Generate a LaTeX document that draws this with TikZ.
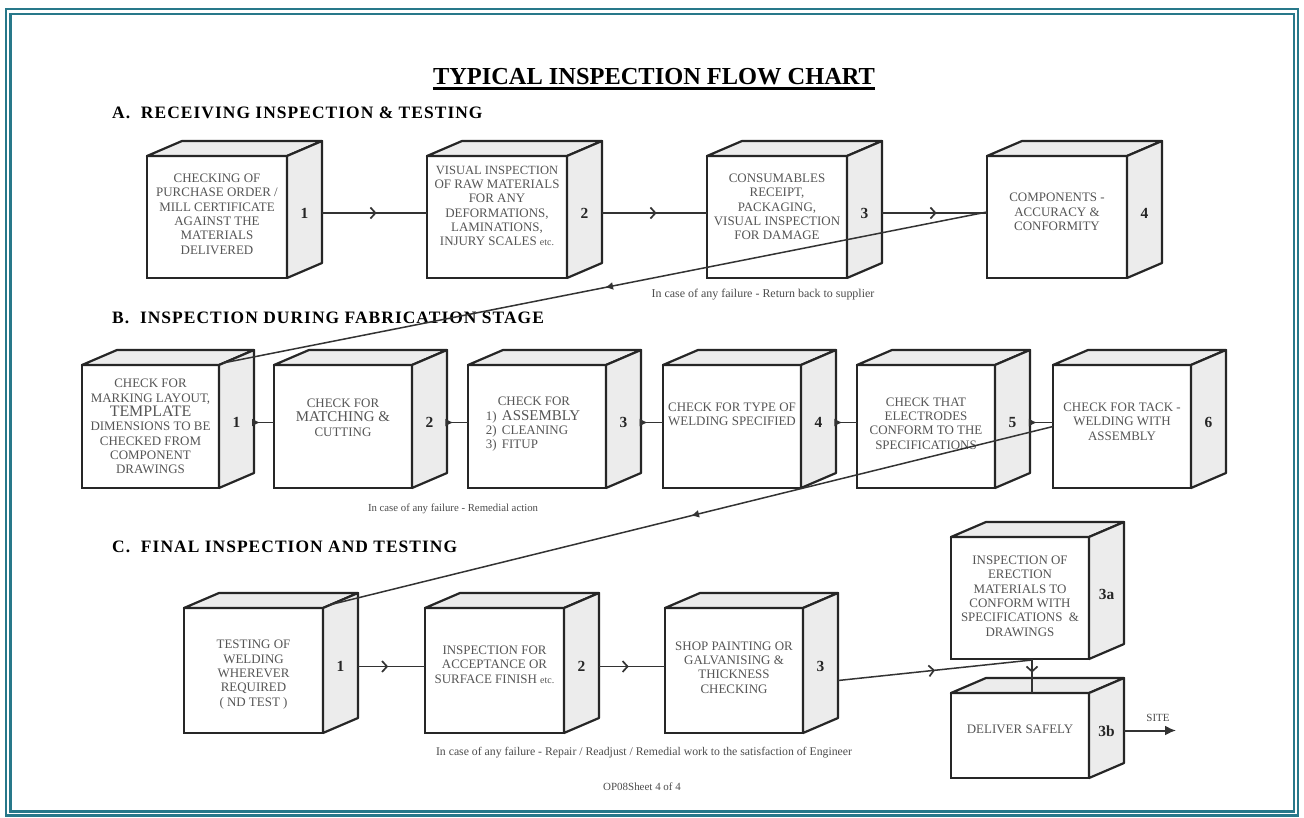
\documentclass[tikz,border=0pt]{standalone}
\usepackage{fontspec}
\setmainfont{Liberation Serif}
\newfontfamily\headfont[LetterSpace=6]{Liberation Serif}
\usetikzlibrary{arrows.meta,calc,decorations.markings}
\definecolor{frameteal}{RGB}{40,120,138}
\definecolor{facegray}{RGB}{236,236,236}
\definecolor{inkgray}{RGB}{85,85,85}

\tikzset{
  frontface/.style={draw=black!85, line width=2.2bp, fill=white, inner sep=0pt, outer sep=0pt, anchor=north west},
  depthface/.style={draw=black!85, line width=2.2bp, fill=facegray, line join=round},
  boxtext/.style={font=\fontsize{13}{14.4}\selectfont, text=inkgray, align=center, inner sep=0pt},
  numlabel/.style={font=\fontsize{15.5}{15.5}\selectfont\bfseries, text=black!85, inner sep=0pt},
  flow/.style={draw=black!80, line width=1.5bp},
  chev/.style={postaction={decorate}, decoration={markings, mark=at position #1 with {\arrow{Straight Barb[length=5bp,width=11bp,line width=1.7bp]}}}},
  tri/.style={postaction={decorate}, decoration={markings, mark=at position #1 with {\arrow{Latex[length=8bp,width=8bp]}}}},
  note/.style={font=\fontsize{11}{12}\selectfont, text=black!70, inner sep=0pt},
  heading/.style={font=\headfont\fontsize{17.5}{17.5}\selectfont\bfseries, anchor=west, inner sep=0pt},
}

% #1 name, #2 x, #3 y, #4 w, #5 h, #6 number, #7 text shift, #8 text
\newcommand\cubebox[8]{%
  \node[frontface, minimum width=#4bp, minimum height=#5bp] (#1) at (#2,#3) {};
  \draw[depthface] (#1.north west) -- ++(35,-15) -- ++(#4,0) -- (#1.north east) -- cycle;
  \draw[depthface] (#1.north east) -- ++(35,-15) -- ++(0,#5) -- (#1.south east) -- cycle;
  \node[boxtext] (#1t) at ($(#1.center)+(0,#7)$) {#8};
  \node[numlabel] (#1n) at ($(#1.east)+(17.5,-4)$) {#6};
  \coordinate (#1r) at ($(#1.east)+(35,-4)$);
}
\newcommand\sm[1]{{\fontsize{10}{14.4}\selectfont #1}}

\begin{document}
\begin{tikzpicture}[x=1bp,y=-1bp]
\useasboundingbox (0,0) rectangle (1304,817);
\fill[white] (0,0) rectangle (1304,817);
% frame
\draw[frameteal, line width=2.4bp] (6,9.2) rectangle (1298,815.5);
\draw[frameteal, line width=2.8bp] (10.8,14) rectangle (1294,811.5);

% title and headings
\node[font=\fontsize{24.5}{25}\selectfont\bfseries, inner sep=0pt] (title) at (654,77) {TYPICAL INSPECTION FLOW CHART};
\draw[line width=2.2bp] ($(title.south west)+(0,3)$) -- ($(title.south east)+(0,3)$);
\node[heading] (hA) at (112,113) {A.\ \ RECEIVING INSPECTION \& TESTING};
\node[heading] (hB) at (112,318) {B.\ \ INSPECTION DURING FABRICATION STAGE};
\node[heading] (hC) at (112,547) {C.\ \ FINAL INSPECTION AND TESTING};

% row A
\cubebox{A1}{147}{156}{140}{122}{1}{-3}{CHECKING OF\\PURCHASE ORDER /\\MILL CERTIFICATE\\AGAINST THE\\MATERIALS\\DELIVERED}
\cubebox{A2}{427}{156}{140}{122}{2}{-11}{\fontsize{12.6}{14.4}\selectfont VISUAL INSPECTION\\OF RAW MATERIALS\\FOR ANY\\DEFORMATIONS,\\LAMINATIONS,\\INJURY SCALES \sm{etc.}}
\cubebox{A3}{707}{156}{140}{122}{3}{-10}{CONSUMABLES\\RECEIPT,\\PACKAGING,\\VISUAL INSPECTION\\FOR DAMAGE}
\cubebox{A4}{987}{156}{140}{122}{4}{-5}{COMPONENTS -\\ACCURACY \&\\CONFORMITY}

% row B
\cubebox{B1}{82}{365}{137}{123}{1}{0}{CHECK FOR\\MARKING LAYOUT,\\{\fontsize{16}{14.4}\selectfont TEMPLATE}\\DIMENSIONS TO BE\\CHECKED FROM\\COMPONENT\\DRAWINGS}
\cubebox{B2}{274}{365}{138}{123}{2}{-9}{CHECK FOR\\{\fontsize{15}{14.4}\selectfont MATCHING \&}\\CUTTING}
\cubebox{B3}{468}{365}{138}{123}{3}{-2}{}
\node[boxtext, align=left] (B3t2) at ($(B3.center)+(-4,-2)$) {\hspace*{12bp}CHECK FOR\\1)\, {\fontsize{15}{14.4}\selectfont ASSEMBLY}\\2)\, CLEANING\\3)\, FITUP};
\cubebox{B4}{663}{365}{138}{123}{4}{-12}{CHECK FOR TYPE OF\\WELDING SPECIFIED}
\cubebox{B5}{857}{365}{138}{123}{5}{-3}{CHECK THAT\\ELECTRODES\\CONFORM TO THE\\SPECIFICATIONS}
\cubebox{B6}{1053}{365}{138}{123}{6}{-5}{CHECK FOR TACK -\\WELDING WITH\\ASSEMBLY}

% row C
\cubebox{C1}{184}{608}{139}{125}{1}{4}{TESTING OF\\WELDING\\WHEREVER\\REQUIRED\\( ND TEST )}
\cubebox{C2}{425}{608}{139}{125}{2}{-6}{INSPECTION FOR\\ACCEPTANCE OR\\SURFACE FINISH \sm{etc.}}
\cubebox{C3}{665}{608}{138}{125}{3}{-3}{SHOP PAINTING OR\\GALVANISING \&\\THICKNESS\\CHECKING}
\cubebox{Ca}{951}{537}{138}{122}{3a}{-2}{INSPECTION OF\\ERECTION\\MATERIALS TO\\CONFORM WITH\\SPECIFICATIONS \ \&\\DRAWINGS}
\cubebox{Cb}{951}{693}{138}{85}{3b}{-6}{DELIVER SAFELY}

% connectors row A
\draw[flow, chev=0.52] (A1r) -- (A1r -| A2.west);
\draw[flow, chev=0.52] (A2r) -- (A2r -| A3.west);
\draw[flow, chev=0.52] (A3r) -- (A3r -| A4.west);
\coordinate (A4in) at ($(A4.west)+(0,-5)$);
\coordinate (B1top) at ($(B1.north east)+(4,-2)$);
\draw[flow, tri=0.5] (A4in) -- (B1top);

% connectors row B
\draw[flow, tri=0.3] (B1r) -- (B1r -| B2.west);
\draw[flow, tri=0.3] (B2r) -- (B2r -| B3.west);
\draw[flow, tri=0.3] (B3r) -- (B3r -| B4.west);
\draw[flow, tri=0.3] (B4r) -- (B4r -| B5.west);
\draw[flow, tri=0.3] (B5r) -- (B5r -| B6.west);
\coordinate (C1top) at ($(C1.north east)+(6,-3)$);
\draw[flow, tri=0.5] (B6.west) -- (C1top);

% connectors row C
\draw[flow, chev=0.45] (C1r) -- (C1r -| C2.west);
\draw[flow, chev=0.45] (C2r) -- (C2r -| C3.west);
\coordinate (C3out) at ($(C3.east)+(35,10)$);
\coordinate (jn) at ($(Ca.south west)+(81,1)$);
\draw[flow, chev=0.5] (C3out) -- (jn);
\draw[flow, chev=0.4] (Ca.south -| jn) -- (Cb.north -| jn);
\coordinate (Cbout) at ($(Cb.east)+(35,-5)$);
\coordinate (siteend) at ($(Cb.east)+(87,-5)$);
\draw[flow, line width=2bp, -{Latex[length=11bp,width=10bp]}] (Cbout) -- (siteend);
\node[note] (sitelbl) at ($(siteend)+(-18,-13)$) {SITE};

% notes
\node[note, font=\fontsize{12}{13}\selectfont] (noteA) at (763,295) {In case of any failure - Return back to supplier};
\node[note, font=\fontsize{10.8}{12}\selectfont] (noteB) at (453,509) {In case of any failure - Remedial action};
\node[note, font=\fontsize{11.8}{13}\selectfont] (noteC) at (644,753) {In case of any failure - Repair / Readjust / Remedial work to the satisfaction of Engineer};
\node[note, font=\fontsize{11}{12}\selectfont] (foot) at (642,787) {OP08Sheet 4 of 4};
\end{tikzpicture}
\end{document}
